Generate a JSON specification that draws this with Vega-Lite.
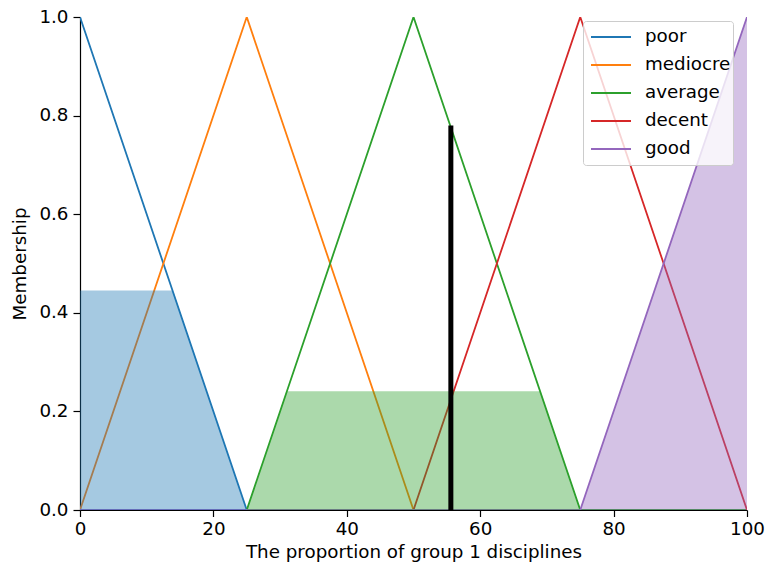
{
  "$schema": "https://vega.github.io/schema/vega-lite/v6.json",
  "width": 667,
  "height": 493,
  "autosize": {"type": "none"},
  "padding": {"left": 80, "top": 17, "right": 19, "bottom": 59},
  "background": "white",
  "config": {
    "view": {"stroke": null},
    "font": "DejaVu Sans",
    "axis": {
      "grid": false,
      "labelFont": "DejaVu Sans",
      "labelFontSize": 18.3,
      "labelColor": "#000000",
      "labelFlush": false,
      "labelOverlap": false,
      "titleFont": "DejaVu Sans",
      "titleFontSize": 18.3,
      "titleFontWeight": "normal",
      "titleColor": "#000000",
      "domainColor": "#000000",
      "domainWidth": 1.2,
      "tickColor": "#000000",
      "tickSize": 6.5,
      "tickWidth": 1.2,
      "labelPadding": 4
    }
  },
  "datasets": {
    "lines": [
      {"term": "poor", "x": 0, "m": 1}, {"term": "poor", "x": 25, "m": 0}, {"term": "poor", "x": 100, "m": 0},
      {"term": "mediocre", "x": 0, "m": 0}, {"term": "mediocre", "x": 25, "m": 1}, {"term": "mediocre", "x": 50, "m": 0}, {"term": "mediocre", "x": 100, "m": 0},
      {"term": "average", "x": 0, "m": 0}, {"term": "average", "x": 25, "m": 0}, {"term": "average", "x": 50, "m": 1}, {"term": "average", "x": 75, "m": 0}, {"term": "average", "x": 100, "m": 0},
      {"term": "decent", "x": 0, "m": 0}, {"term": "decent", "x": 50, "m": 0}, {"term": "decent", "x": 75, "m": 1}, {"term": "decent", "x": 100, "m": 0},
      {"term": "good", "x": 0, "m": 0}, {"term": "good", "x": 75, "m": 0}, {"term": "good", "x": 100, "m": 1}
    ],
    "fills": [
      {"term": "poor", "x": 0, "m": 0.445}, {"term": "poor", "x": 13.9, "m": 0.445}, {"term": "poor", "x": 25, "m": 0},
      {"term": "average", "x": 25, "m": 0}, {"term": "average", "x": 31, "m": 0.241}, {"term": "average", "x": 69, "m": 0.241}, {"term": "average", "x": 75, "m": 0},
      {"term": "good", "x": 75, "m": 0}, {"term": "good", "x": 100, "m": 1}
    ],
    "crisp": [{"x": 55.6, "m0": 0, "m1": 0.78}]
  },
  "layer": [
    {
      "data": {"name": "lines"},
      "mark": {"type": "line", "strokeWidth": 1.8, "clip": true},
      "encoding": {
        "x": {"field": "x", "type": "quantitative", "scale": {"domain": [0, 100], "nice": false}, "axis": {"title": "The proportion of group 1 disciplines", "values": [0, 20, 40, 60, 80, 100], "format": "d", "titlePadding": 6}},
        "y": {"field": "m", "type": "quantitative", "scale": {"domain": [0, 1], "nice": false}, "axis": {"title": "Membership", "values": [0, 0.2, 0.4, 0.6, 0.8, 1.0], "format": ".1f", "titlePadding": 9, "tickSize": 7, "labelPadding": 5}},
        "color": {
          "field": "term", "type": "nominal",
          "scale": {"domain": ["poor", "mediocre", "average", "decent", "good"], "range": ["#1f77b4", "#ff7f0e", "#2ca02c", "#d62728", "#9467bd"]},
          "legend": {
            "title": null,
            "orient": "none",
            "legendX": 503,
            "legendY": 4,
            "symbolType": "stroke",
            "symbolSize": 1600,
            "symbolStrokeWidth": 1.8,
            "symbolOffset": 5,
            "clipHeight": 28,
            "labelFont": "DejaVu Sans",
            "labelFontSize": 18.3,
            "labelColor": "#000000",
            "labelOffset": 13,
            "labelExpr": "datum.label + '\u00a0'",
            "rowPadding": 0,
            "padding": 2,
            "fillColor": "rgba(255,255,255,0.8)",
            "strokeColor": "#cccccc",
            "cornerRadius": 3
          }
        },
        "order": {"field": "x", "type": "quantitative"}
      }
    },
    {
      "data": {"name": "fills"},
      "transform": [{"filter": "datum.term === 'poor'"}],
      "mark": {"type": "area", "color": "#1f77b4", "opacity": 0.4},
      "encoding": {
        "x": {"field": "x", "type": "quantitative"},
        "y": {"field": "m", "type": "quantitative", "stack": null}
      }
    },
    {
      "data": {"name": "fills"},
      "transform": [{"filter": "datum.term === 'average'"}],
      "mark": {"type": "area", "color": "#2ca02c", "opacity": 0.4},
      "encoding": {
        "x": {"field": "x", "type": "quantitative"},
        "y": {"field": "m", "type": "quantitative", "stack": null}
      }
    },
    {
      "data": {"name": "fills"},
      "transform": [{"filter": "datum.term === 'good'"}],
      "mark": {"type": "area", "color": "#9467bd", "opacity": 0.4},
      "encoding": {
        "x": {"field": "x", "type": "quantitative"},
        "y": {"field": "m", "type": "quantitative", "stack": null}
      }
    },
    {
      "data": {"name": "crisp"},
      "mark": {"type": "rule", "color": "#000000", "strokeWidth": 5},
      "encoding": {
        "x": {"field": "x", "type": "quantitative"},
        "y": {"field": "m0", "type": "quantitative"},
        "y2": {"field": "m1"}
      }
    }
  ]
}
